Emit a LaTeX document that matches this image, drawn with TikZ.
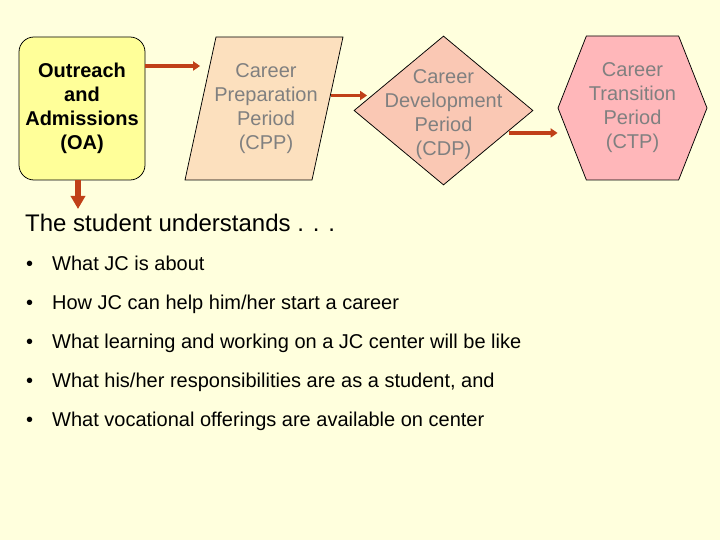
\documentclass[tikz,border=0pt]{standalone}
\usepackage{fontspec}
\setmainfont{Liberation Sans}
\usetikzlibrary{shapes.geometric, shapes.symbols, arrows.meta, calc}
\definecolor{slidebg}{RGB}{255,255,221}
\definecolor{arrowred}{RGB}{192,64,24}
\definecolor{oayellow}{RGB}{255,255,153}
\definecolor{cpppeach}{RGB}{252,224,190}
\definecolor{cdpsalmon}{RGB}{250,200,180}
\definecolor{ctppink}{RGB}{255,183,186}
\definecolor{labelgray}{RGB}{128,128,128}
\tikzstyle{arrow} = [line width=3.5pt, draw=arrowred, -{Triangle[length=7pt,width=9pt]}]
\tikzstyle{bigArrow} = [line width=6pt, draw=arrowred, -{Triangle[length=13pt,width=14pt]}]
\tikzstyle{oaBox} = [rectangle, rounded corners=15pt, minimum width=126pt, minimum height=143pt, align=center, draw=black, line width=0.75pt, fill=oayellow, font=\fontsize{20}{24}\selectfont\bfseries]
\tikzstyle{periodShape} = [draw=black, line width=0.75pt, align=center, text=labelgray, inner sep=0pt, font=\fontsize{20}{24}\selectfont]
\tikzstyle{cppBox} = [periodShape, rectangle, xslant=0.2168, minimum width=127pt, minimum height=143pt, fill=cpppeach]
\tikzstyle{cdpBox} = [periodShape, diamond, minimum width=179pt, minimum height=149pt, fill=cdpsalmon]
\tikzstyle{ctpBox} = [periodShape, signal, signal to=west and east, signal pointer angle=137, minimum width=149pt, minimum height=144pt, fill=ctppink]
\tikzstyle{periodText} = [align=center, text=labelgray, font=\fontsize{20}{24}\selectfont]
\tikzstyle{heading} = [anchor=base west, inner sep=0pt, font=\fontsize{24}{28}\selectfont]
\tikzstyle{bulletItem} = [anchor=base west, inner sep=0pt, font=\fontsize{20}{24}\selectfont]

\begin{document}
\begin{tikzpicture}[x=1pt, y=-1pt]
\useasboundingbox[fill=slidebg] (0,0) rectangle (720,540);
\node (oa) [oaBox] at (82,108.5) {Outreach\\and\\Admissions\\(OA)};
\node (cpp) [cppBox] at (264,108.5) {};
\node (cppText) [periodText] at ([xshift=2pt]cpp.center) {Career\\Preparation\\Period\\(CPP)};
\node (cdp) [cdpBox] at (443.5,110.5) {};
\node (cdpText) [periodText] at ([yshift=-4pt]cdp.center) {Career\\Development\\Period\\(CDP)};
\node (ctp) [ctpBox] at (632.5,108) {Career\\Transition\\Period\\(CTP)};
\coordinate (cdpIn) at ($(cdp.west)!0.2!(cdp.north)$);
\coordinate (cdpOut) at ($(cdp.east)!0.3!(cdp.south)$);
\coordinate (headingTop) at (78,209);
\draw [arrow] ([yshift=42.5pt]oa.east) -- ([yshift=42.5pt]oa.east -| cpp.west);
\draw [arrow, shorten >=4.5pt] ([xshift=3.5pt]cpp.east |- cdpIn) -- (cdpIn);
\draw [arrow, shorten <=3pt] (cdpOut) -- (cdpOut -| ctp.west);
\draw [bigArrow] (oa.south -| headingTop) -- (headingTop);
\node (heading) [heading] at (25,231.5) {The student understands . . .};
\node (item1) [bulletItem] at (26,270.5) {\makebox[26pt][l]{•}What JC is about};
\node (item2) [bulletItem] at (26,309.5) {\makebox[26pt][l]{•}How JC can help him/her start a career};
\node (item3) [bulletItem] at (26,348.5) {\makebox[26pt][l]{•}What learning and working on a JC center will be like};
\node (item4) [bulletItem] at (26,387.5) {\makebox[26pt][l]{•}What his/her responsibilities are as a student, and};
\node (item5) [bulletItem] at (26,426.5) {\makebox[26pt][l]{•}What vocational offerings are available on center};
\end{tikzpicture}
\end{document}
